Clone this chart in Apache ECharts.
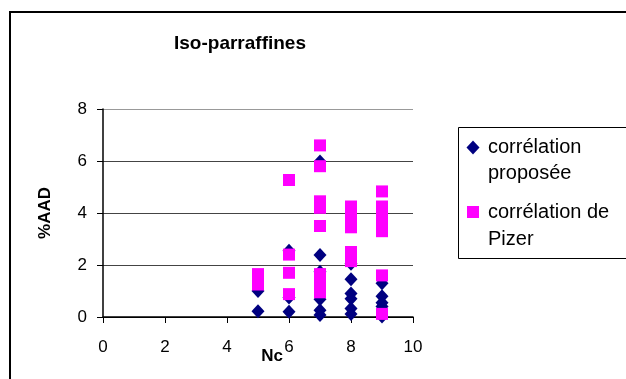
<!DOCTYPE html>
<html>
<head>
<meta charset="utf-8">
<script src="https://cdn.jsdelivr.net/npm/echarts@6/dist/echarts.min.js"></script>
<style>
  html, body { margin: 0; padding: 0; background: #fff; }
  #chart { width: 626px; height: 379px; }
</style>
</head>
<body>
<div id="chart"></div>
<script>
  // données
  const ncProposee = [5, 5, 6, 6, 6, 7, 7, 7, 7, 7, 7, 8, 8, 8, 8, 8, 8, 9, 9, 9, 9, 9]
  const aadProposee = [1.0, 0.22, 2.55, 0.75, 0.2, 5.98, 2.38, 1.74, 0.68, 0.26, 0.08, 2.05, 1.45, 0.9, 0.7, 0.33, 0.12, 1.3, 0.8, 0.55, 0.4, 0.02]
  const ncPizer = [5, 5, 5, 6, 6, 6, 6, 7, 7, 7, 7, 7, 7, 7, 7, 7, 8, 8, 8, 8, 8, 8, 8, 8, 9, 9, 9, 9, 9, 9, 9, 9]
  const aadPizer = [1.25, 1.45, 1.65, 5.27, 2.4, 1.7, 0.88, 6.6, 5.8, 4.45, 4.2, 3.5, 1.65, 1.4, 1.15, 0.95, 4.25, 4.0, 3.8, 3.6, 3.45, 2.5, 2.3, 2.15, 4.83, 4.25, 4.0, 3.8, 3.55, 3.3, 1.6, 0.12]
  const seriesNames = ['corrélation\nproposée', 'corrélation de\nPizer']
  const xTicks = [0, 2, 4, 6, 8, 10]
  const yTicks = [0, 2, 4, 6, 8]

  const chart = echarts.init(document.getElementById('chart'))
  const font = 'Liberation Sans, Arial, sans-serif'
  const navy = '#000080'
  const pink = '#FF00FF'

  const zip = (xs, ys) => xs.map((x, i) => [x, ys[i]])

  const option = {
    animation: false,
    grid: { left: 103, top: 109, width: 310, height: 208 },
    xAxis: {
      type: 'value',
      min: xTicks[0],
      max: xTicks[xTicks.length - 1],
      interval: 2,
      axisLine: { show: true, onZero: false, lineStyle: { color: '#000', width: 1.5 } },
      axisTick: { show: true, length: 6, lineStyle: { color: '#000' } },
      axisLabel: { color: '#000', fontSize: 17, fontFamily: font, margin: 22 },
      splitLine: { show: false }
    },
    yAxis: {
      type: 'value',
      min: yTicks[0],
      max: yTicks[yTicks.length - 1],
      interval: 2,
      name: '%AAD',
      nameLocation: 'middle',
      nameGap: 49,
      nameRotate: 90,
      nameTextStyle: { color: '#000', fontSize: 17, fontWeight: 'bold', fontFamily: font },
      axisLine: { show: true, lineStyle: { color: '#000', width: 1.5 } },
      axisTick: { show: true, length: 6, lineStyle: { color: '#000' } },
      axisLabel: { color: '#000', fontSize: 17, fontFamily: font, margin: 16 },
      splitLine: { show: true, lineStyle: { color: ['#000', '#444', '#444', '#444', '#999'], width: 1 } }
    },
    series: [{
      name: seriesNames[0],
      type: 'scatter',
      symbol: 'diamond',
      symbolSize: [13, 14],
      itemStyle: { color: navy, opacity: 1 },
      data: zip(ncProposee, aadProposee),
      z: 2
    }, {
      name: seriesNames[1],
      type: 'scatter',
      symbol: 'rect',
      symbolSize: [12, 12],
      itemStyle: { color: pink, opacity: 1 },
      data: zip(ncPizer, aadPizer),
      z: 3
    }],
    graphic: [
      // cadre extérieur
      { type: 'rect', shape: { x: 10, y: 12, width: 640, height: 400 }, style: { fill: 'none', stroke: '#000', lineWidth: 2 }, silent: true },
      { type: 'text', style: { text: 'Iso-parraffines', x: 240, y: 44, align: 'center', verticalAlign: 'middle', font: 'bold 19px ' + font, fill: '#000' } },
      { type: 'text', style: { text: 'Nc', x: 272, y: 356, align: 'center', verticalAlign: 'middle', font: 'bold 17px ' + font, fill: '#000' } },
      // légende
      { type: 'rect', shape: { x: 458.5, y: 127.5, width: 170, height: 131 }, style: { fill: '#fff', stroke: '#000', lineWidth: 1 } },
      { type: 'polygon', shape: { points: [[473, 140.5], [479.5, 147.5], [473, 154.5], [466.5, 147.5]] }, style: { fill: navy } },
      { type: 'text', style: { text: seriesNames[0], x: 488, y: 134, lineHeight: 26, font: '20px ' + font, fill: '#000' } },
      { type: 'rect', shape: { x: 467, y: 206, width: 12, height: 12 }, style: { fill: pink } },
      { type: 'text', style: { text: seriesNames[1], x: 488, y: 199, lineHeight: 27, font: '20px ' + font, fill: '#000' } }
    ]
  }
  chart.setOption(option)
</script>
</body>
</html>
